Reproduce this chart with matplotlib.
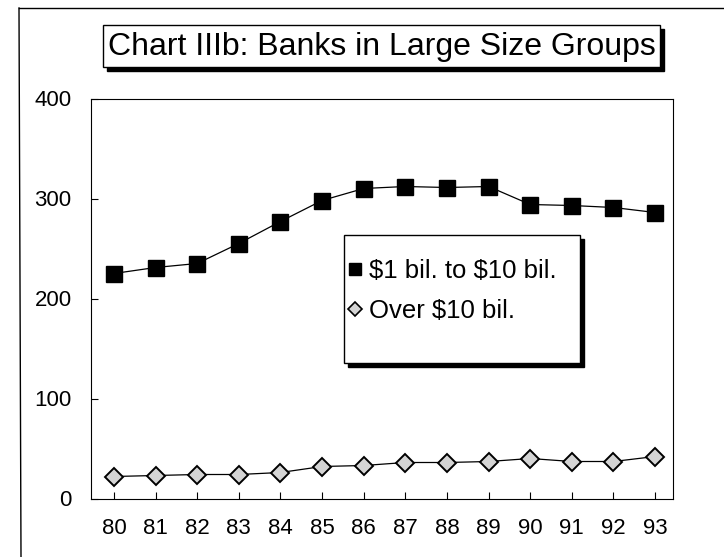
import numpy as np
import matplotlib
matplotlib.use('Agg')
import matplotlib.pyplot as plt
from matplotlib.lines import Line2D
from matplotlib.patches import Rectangle

plt.rcParams['font.family'] = ['Liberation Sans', 'DejaVu Sans']

years = ['80', '81', '82', '83', '84', '85', '86', '87', '88', '89', '90', '91', '92', '93']
mid_banks = [225, 231, 235, 255, 277, 298, 310, 312, 311, 312, 294, 293, 291, 286]
big_banks = [22, 23, 24, 24, 26, 32, 33, 36, 36, 37, 40, 37, 37, 42]
labels = [r'\$1 bil. to \$10 bil.', r'Over \$10 bil.']

W, H = 724, 557
fig = plt.figure(figsize=(W / 100, H / 100), dpi=100)

def fx(px):
    return px / W

def fy(py):
    return 1 - py / H

ax = fig.add_axes([fx(91), fy(498.5), fx(673 - 91), 400 / H])
x = np.arange(len(years))

ax.plot(x, mid_banks, color='black', lw=0.9, marker='s', ms=12,
        mfc='black', mec='black', zorder=3)
ax.plot(x, big_banks, color='black', lw=0.9, marker='D', ms=9.5,
        mfc='#d4d4d4', mec='black', mew=1.4, zorder=3)

ax.set_xlim(-0.55, 13.43)
ax.set_ylim(0, 400)
ax.set_xticks(x)
ax.set_xticklabels(years, fontsize=16)
ax.set_yticks([0, 100, 200, 300, 400])
ax.tick_params(axis='both', direction='in', length=5, width=0.8, color='black')
ax.tick_params(axis='x', pad=14)
ax.tick_params(axis='y', pad=14, labelsize=16)
for s in ax.spines.values():
    s.set_linewidth(0.8)
    s.set_color('black')

# outer chart border (left and top visible)
fig.add_artist(Line2D([fx(19), fx(21)], [fy(8), fy(557)], color='black', lw=1.0))
fig.add_artist(Line2D([fx(19), fx(724)], [fy(8), fy(8)], color='black', lw=1.0))

# title box with shadow
tx0, tx1, ty0, ty1 = 103, 660, 25, 67
fig.add_artist(Rectangle((fx(tx0 + 4), fy(ty1 + 4)), fx(tx1 - tx0), (ty1 - ty0) / H,
                         transform=fig.transFigure, fc='black', ec='black'))
fig.add_artist(Rectangle((fx(tx0), fy(ty1)), fx(tx1 - tx0), (ty1 - ty0) / H,
                         transform=fig.transFigure, fc='white', ec='black', lw=1.0))
fig.text(fx((tx0 + tx1) / 2), fy((ty0 + ty1) / 2 + 1), 'Chart IIIb: Banks in Large Size Groups',
         fontsize=23, ha='center', va='center')

# legend box with shadow
lx0, lx1, ly0, ly1 = 344, 580, 235, 363
fig.add_artist(Rectangle((fx(lx0 + 4), fy(ly1 + 4)), fx(lx1 - lx0), (ly1 - ly0) / H,
                         transform=fig.transFigure, fc='black', ec='black', zorder=4))
fig.add_artist(Rectangle((fx(lx0), fy(ly1)), fx(lx1 - lx0), (ly1 - ly0) / H,
                         transform=fig.transFigure, fc='white', ec='black', lw=1.0, zorder=4))
handles = [Line2D([], [], ls='none', marker='s', ms=9, mfc='black', mec='black'),
           Line2D([], [], ls='none', marker='D', ms=7, mfc='#d4d4d4', mec='black', mew=1.2)]
leg = fig.legend(handles, labels, loc='upper left', bbox_to_anchor=(fx(346), fy(259)),
                 frameon=False, fontsize=18.5, handlelength=0.7, handletextpad=0.2,
                 labelspacing=0.62, borderpad=0, borderaxespad=0)
leg.set_zorder(5)

fig.savefig('out.png', dpi=100)
